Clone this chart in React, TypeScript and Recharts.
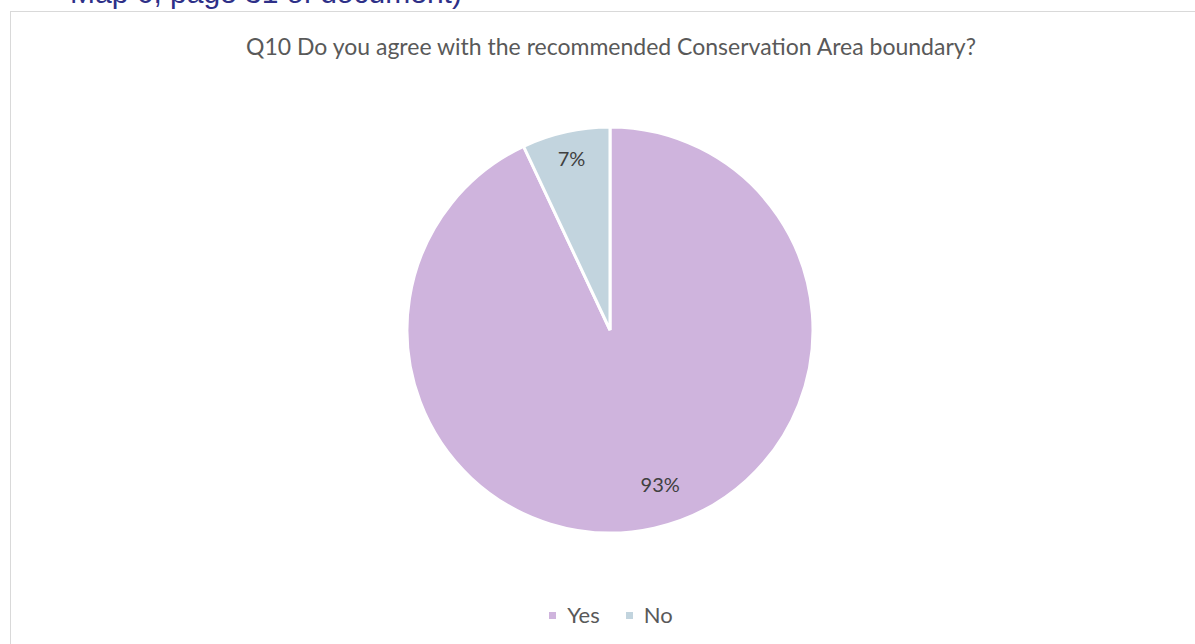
import React from "react";
import { PieChart, Pie, Cell, Legend } from "recharts";

const categories = ["Yes", "No"];
const values = [93, 7];
const colors = ["#CFB4DD", "#C2D4DE"];
const title = "Q10 Do you agree with the recommended Conservation Area boundary?";
const headerText = "Map 6, page 31 of document)";

const data = categories.map((name, i) => ({ name, value: values[i] }));
const FONT = "Lato, 'Open Sans', sans-serif";
const RAD = Math.PI / 180;

const renderLabel = (props: any) => {
  const { cx, cy, midAngle, outerRadius, value, percent } = props;
  const big = percent > 0.5;
  const r = outerRadius * (big ? 0.8 : 0.87);
  const a = midAngle + (big ? 5.4 : 0);
  const x = cx + r * Math.cos(-a * RAD);
  const y = cy + r * Math.sin(-a * RAD);
  return (
    <text x={x} y={y} fill="#404040" fontSize={20} fontFamily={FONT} textAnchor="middle" dominantBaseline="central">
      {value}%
    </text>
  );
};

const renderLegend = () => (
  <div style={{ display: "flex", justifyContent: "center", alignItems: "center", fontFamily: FONT }}>
    {categories.map((c, i) => (
      <div key={c} style={{ display: "flex", alignItems: "center", marginRight: i === categories.length - 1 ? 0 : 26 }}>
        <span style={{ display: "inline-block", width: 7, height: 7, background: colors[i], marginRight: 11 }} />
        <span style={{ color: "#595959", fontSize: 22, lineHeight: "26px" }}>{c}</span>
      </div>
    ))}
  </div>
);

export default function App() {
  return (
    <div style={{ position: "fixed", left: 0, top: 0, width: 1195, height: 644, overflow: "hidden", background: "#fff" }}>
      <div style={{ position: "absolute", left: 70, top: -24, fontFamily: "'Liberation Sans', Arial, sans-serif", fontSize: 30, color: "#2E3088", whiteSpace: "nowrap", lineHeight: "34px" }}>
        {headerText}
      </div>
      <div style={{ position: "absolute", left: 10, top: 11, width: 1190, height: 650, border: "1px solid #D9D9D9", boxSizing: "border-box" }}>
        <div style={{ position: "absolute", left: 0, top: 21, width: 1200, textAlign: "center", fontFamily: FONT, fontSize: 23, color: "#595959", lineHeight: "26px", whiteSpace: "nowrap" }}>
          {title}
        </div>
        <div style={{ position: "absolute", left: 0, top: 0 }}>
          <PieChart width={1200} height={633}>
            <Pie
              data={data}
              dataKey="value"
              nameKey="name"
              cx={594}
              cy={313}
              outerRadius={203}
              startAngle={90}
              endAngle={-270}
              stroke="#FFFFFF"
              strokeWidth={3}
              label={renderLabel}
              labelLine={false}
              isAnimationActive={false}
            >
              {data.map((d, i) => (
                <Cell key={d.name} fill={colors[i]} />
              ))}
            </Pie>
            <Legend verticalAlign="bottom" align="center" content={renderLegend} wrapperStyle={{ bottom: 17 }} />
          </PieChart>
        </div>
      </div>
    </div>
  );
}
